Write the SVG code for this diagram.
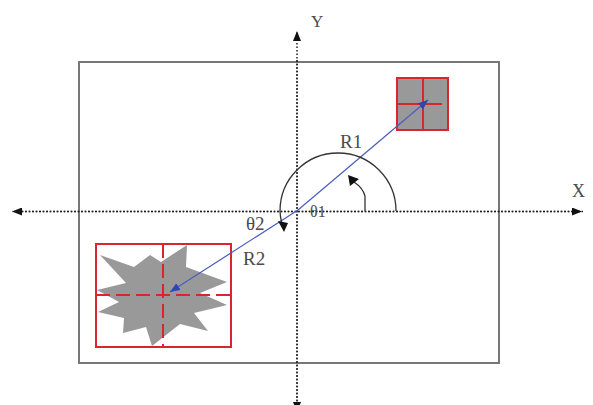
<svg xmlns="http://www.w3.org/2000/svg" width="593" height="405" viewBox="0 0 593 405">
<style>
.axis{stroke:#222;stroke-width:1.5;stroke-dasharray:1.5 2;fill:none}
.red{stroke:#d8262e;stroke-width:2;fill:none}
.reddash{stroke:#d8262e;stroke-width:2;fill:none;stroke-dasharray:14 6}
.blue{stroke:#4a5cc0;stroke-width:1.2;fill:none}
.arc{stroke:#333;stroke-width:1.3;fill:none}
.lbl{font-family:"Liberation Serif",serif;font-size:19px;fill:#4a4a4a}
</style>
<defs>
<marker id="ah" viewBox="0 0 10 8" refX="10" refY="4" markerWidth="10" markerHeight="8" markerUnits="userSpaceOnUse" orient="auto">
<path d="M0,0 L10,4 L0,8 Z" fill="#111"/>
</marker>
<marker id="bh" viewBox="0 0 10 8" refX="10" refY="4" markerWidth="10" markerHeight="8" markerUnits="userSpaceOnUse" orient="auto">
<path d="M0,0 L10,4 L0,8 Z" fill="#3344b0"/>
</marker>
</defs>
<rect width="593" height="405" fill="#fff"/>
<g id="frame">
<rect x="79" y="62" width="420" height="301" fill="none" stroke="#777" stroke-width="2"/>
</g>
<g id="star-target">
<path d="M100,255 L134,267 L150,255 L161,262 L187,245 L186,267 L227,282 L200,293 L227,305 L194,313 L208,331 L180,324 L152,346 L146,327 L123,333 L124,318 L98,312 L119,302 L97,290 L126,283 Z" fill="#999"/>
<rect x="96" y="244" width="135" height="103" class="red"/>
<line x1="96" y1="295" x2="231" y2="295" class="reddash"/>
<line x1="163" y1="244" x2="163" y2="347" class="reddash"/>
</g>
<g id="square-target">
<rect x="397" y="78" width="51" height="52" class="red" style="fill:#999"/>
<line x1="397" y1="104" x2="442" y2="104" class="red"/>
<line x1="423" y1="78" x2="423" y2="130" class="red"/>
</g>
<g id="connectors">
<line x1="583" y1="211.5" x2="12" y2="211.5" class="axis" marker-end="url(#ah)"/>
<line x1="15" y1="211.5" x2="582" y2="211.5" class="axis" marker-end="url(#ah)"/>
<line x1="297" y1="405" x2="297" y2="31" class="axis" marker-end="url(#ah)"/>
<line x1="297" y1="60" x2="297" y2="412" class="axis" marker-end="url(#ah)"/>
<line x1="298" y1="210" x2="428" y2="100" class="blue" marker-end="url(#bh)"/>
<line x1="298" y1="210" x2="170" y2="292" class="blue" marker-end="url(#bh)"/>
<path d="M396,211 A58,58 0 0 0 280,211 A58,58 0 0 0 281.5,222" class="arc"/>
<polygon points="278,221 288,223 284,232" fill="#111"/>
<path d="M365,211 L365,196 Q363,188 354,182" class="arc"/>
<polygon points="348,175 350,186 359,179" fill="#111"/>
</g>
<g id="labels">
<text x="311" y="27" class="lbl" style="font-size:17px">Y</text>
<text x="572" y="197" class="lbl" style="font-size:18px">X</text>
<text x="340" y="148" class="lbl">R1</text>
<text x="243" y="265" class="lbl">R2</text>
<text x="310" y="217" class="lbl" style="font-size:16px">θ1</text>
<text x="246" y="230" class="lbl">θ2</text>
</g>
</svg>
